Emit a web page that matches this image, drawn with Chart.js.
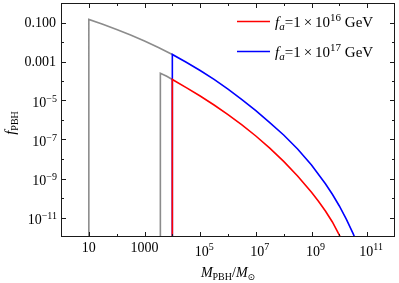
<!DOCTYPE html>
<html>
<head>
<meta charset="utf-8">
<script src="https://cdn.jsdelivr.net/npm/chart.js@4.4.1/dist/chart.umd.min.js"></script>
<style>
  html, body { margin: 0; padding: 0; background: #fff; }
  #wrap { width: 399px; height: 283px; }
</style>
</head>
<body>
<div id="wrap"><canvas id="chart" width="399" height="283"></canvas></div>
<script>
// ── data (log10 of M and f) ──
const redLogM  = [4, 4, 4.5, 5, 5.5, 6, 6.5, 7, 7.5, 8, 8.5, 9, 9.25, 9.5, 9.75, 10, 10.1];
const redLogF  = [-13, -3.92, -4.34, -4.77, -5.23, -5.72, -6.25, -6.82, -7.44, -8.12, -8.87, -9.71, -10.17, -10.67, -11.23, -11.9, -12.2];

const blueLogM = [4, 4, 4.5, 5, 5.5, 6, 6.5, 7, 7.5, 8, 8.5, 9, 9.5, 9.75, 10, 10.25, 10.5, 10.6];
const blueLogF = [-13, -2.64, -3.04, -3.46, -3.92, -4.42, -4.95, -5.52, -6.13, -6.77, -7.49, -8.31, -9.27, -9.81, -10.41, -11.08, -11.84, -12.2];

const grayLogM  = [1, 1, 1.5, 2, 2.5, 3, 3.5, 4];
const grayLogF  = [-13, -0.84, -1.09, -1.36, -1.64, -1.95, -2.28, -2.64];

const gray2LogM = [3.57, 3.57, 3.8, 4];
const gray2LogF = [-13, -3.6, -3.76, -3.92];

const legendExps = ['16', '17'];

// ── axes / ticks ──
const xMajorTicks  = [10, 1e3, 1e5, 1e7, 1e9, 1e11];
const xMajorLabels = [['10'], ['1000'], ['10', '5'], ['10', '7'], ['10', '9'], ['10', '11']];
const xMinorTicks  = [100, 1e4, 1e6, 1e8, 1e10];

const yMajorTicks  = [1e-1, 1e-3, 1e-5, 1e-7, 1e-9, 1e-11];
const yMajorLabels = [['0.100'], ['0.001'], ['10', '\u22125'], ['10', '\u22127'], ['10', '\u22129'], ['10', '\u221211']];
const yMinorTicks  = [1e-2, 1e-4, 1e-6, 1e-8, 1e-10];

const COLORS = { red: '#ff0000', blue: '#0000ff', gray: '#8c8c8c', frame: '#1a1a1a' };
const SERIF = "'Liberation Serif', 'Times New Roman', serif";

const toPts = (lm, lf) => lm.map((m, i) => ({ x: Math.pow(10, m), y: Math.pow(10, lf[i]) }));

function lineSet(label, data, color) {
    return {
        label, data,
        showLine: true,
        borderColor: color,
        backgroundColor: color,
        borderWidth: 1.6,
        pointRadius: 0,
        tension: 0,
        clip: 0,
    };
}

// ════════════════════════════════════════
// rich text: segments {t, size, italic, dy, family}
// ════════════════════════════════════════
function seg(t, size = 14, italic = false, dy = 0, family = SERIF) {
    return { t, size, italic, dy, family };
}
function segFont(s) {
    return (s.italic ? 'italic ' : '') + s.size + 'px ' + s.family;
}
function drawRich(ctx, x, y, segs, align) {
    let w = 0;
    segs.forEach(s => { ctx.font = segFont(s); w += ctx.measureText(s.t).width; });
    let cx = align === 'right' ? x - w : align === 'center' ? x - w / 2 : x;
    ctx.textAlign = 'left';
    ctx.textBaseline = 'alphabetic';
    segs.forEach(s => {
        ctx.font = segFont(s);
        ctx.fillText(s.t, cx, y + s.dy);
        cx += ctx.measureText(s.t).width;
    });
}

// ════════════════════════════════════════
// frame, inward ticks, labels, titles, legend
// ════════════════════════════════════════
const decorPlugin = {
    id: 'decor',
    afterDatasetsDraw(chart) {
        const { ctx, chartArea: a, scales } = chart;
        const xs = scales.x, ys = scales.y;
        ctx.save();
        ctx.strokeStyle = COLORS.frame;
        ctx.lineWidth = 1;
        ctx.strokeRect(a.left + 0.5, a.top + 0.5, a.right - a.left - 1, a.bottom - a.top - 1);

        const tick = (vals, len, isX) => {
            ctx.beginPath();
            vals.forEach(v => {
                if (isX) {
                    const px = Math.round(xs.getPixelForValue(v)) + 0.5;
                    ctx.moveTo(px, a.bottom); ctx.lineTo(px, a.bottom - len);
                    ctx.moveTo(px, a.top); ctx.lineTo(px, a.top + len);
                } else {
                    const py = Math.round(ys.getPixelForValue(v)) + 0.5;
                    ctx.moveTo(a.left, py); ctx.lineTo(a.left + len, py);
                    ctx.moveTo(a.right, py); ctx.lineTo(a.right - len, py);
                }
            });
            ctx.stroke();
        };
        tick(xMajorTicks, 5, true);
        tick(xMinorTicks, 3, true);
        tick(yMajorTicks, 5, false);
        tick(yMinorTicks, 3, false);

        ctx.fillStyle = '#000';
        // x tick labels (top-aligned as a block)
        xMajorTicks.forEach((v, i) => {
            const px = xs.getPixelForValue(v);
            const lab = xMajorLabels[i];
            if (lab.length === 1) {
                drawRich(ctx, px, a.bottom + 15, [seg(lab[0])], 'center');
            } else {
                drawRich(ctx, px + 4, a.bottom + 19, [seg(lab[0]), seg(lab[1], 10, false, -6)], 'center');
            }
        });
        // y tick labels
        yMajorTicks.forEach((v, i) => {
            const py = ys.getPixelForValue(v);
            const lab = yMajorLabels[i];
            if (lab.length === 1) {
                drawRich(ctx, a.left - 5, py + 4.5, [seg(lab[0])], 'right');
            } else {
                drawRich(ctx, a.left - 4, py + 6.5, [seg(lab[0]), seg(lab[1], 10, false, -5)], 'right');
            }
        });

        // x title
        drawRich(ctx, (a.left + a.right) / 2, 277, [
            seg('M', 14, true), seg('PBH', 10, false, 3), seg('/', 14),
            seg('M', 14, true), seg('\u2299', 9, false, 3, "'DejaVu Sans', sans-serif"),
        ], 'center');

        // y title (rotated)
        ctx.save();
        ctx.translate(15, (a.top + a.bottom) / 2 + 3);
        ctx.rotate(-Math.PI / 2);
        drawRich(ctx, 0, 0, [seg('f', 15, true), seg('PBH', 10, false, 3)], 'center');
        ctx.restore();

        // legend
        const legendSets = chart.data.datasets.slice(0, 2);
        legendSets.forEach((ds, i) => {
            const ly = 21.5 + i * 30;
            ctx.strokeStyle = ds.borderColor;
            ctx.lineWidth = 1.6;
            ctx.beginPath();
            ctx.moveTo(237, ly); ctx.lineTo(270, ly);
            ctx.stroke();
            ctx.fillStyle = '#000';
            drawRich(ctx, 275, ly + 5.5, [
                seg('f', 15, true), seg('a', 11, true, 3), seg('=1\u2009\u00d7\u200910', 15),
                seg(legendExps[i], 11, false, -6.5), seg(' GeV', 15),
            ], 'left');
        });
        ctx.restore();
    },
};

new Chart(document.getElementById('chart'), {
    type: 'scatter',
    data: {
        datasets: [
            lineSet('f_a=1e16', toPts(redLogM, redLogF), COLORS.red),
            lineSet('f_a=1e17', toPts(blueLogM, blueLogF), COLORS.blue),
            lineSet('gray1', toPts(grayLogM, grayLogF), COLORS.gray),
            lineSet('gray2', toPts(gray2LogM, gray2LogF), COLORS.gray),
        ],
    },
    options: {
        responsive: false,
        devicePixelRatio: 1,
        animation: false,
        layout: { padding: { top: 3, right: 4, left: 0, bottom: 0 } },
        plugins: { legend: { display: false }, tooltip: { enabled: false } },
        scales: {
            x: {
                type: 'logarithmic', min: 1, max: 1e12,
                ticks: { display: false },
                grid: { display: false },
                border: { display: false },
                afterFit: s => { s.height = 46; },
            },
            y: {
                type: 'logarithmic', min: 1e-12, max: 1,
                ticks: { display: false },
                grid: { display: false },
                border: { display: false },
                afterFit: s => { s.width = 61; },
            },
        },
    },
    plugins: [decorPlugin],
});
</script>
</body>
</html>
